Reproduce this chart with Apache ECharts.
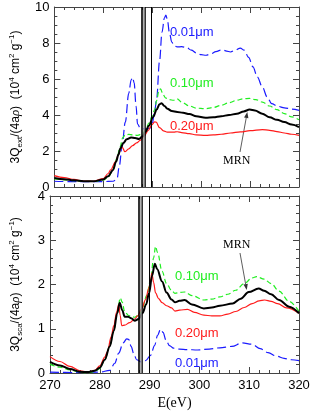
<!DOCTYPE html>
<html><head><meta charset="utf-8">
<script src="https://cdn.jsdelivr.net/npm/echarts/dist/echarts.min.js"></script>
<style>html,body{margin:0;padding:0;background:#fff}#c{width:314px;height:411px}</style>
</head><body><div id="c"></div>
<script>
// ---- Data: [E (eV), value] ----
const extSmall = [[270,0.32],[273,0.3],[276,0.3],[280,0.3],[282,0.32],[282.8,0.45],[283.3,1.2],[283.8,2.2],[284.5,3.6],[285.2,5.2],[285.7,5.95],[286.0,6.08],[286.3,5.8],[286.7,4.5],[287.0,3.5],[287.5,3.3],[288.5,3.22],[289.5,3.25],[290.0,3.5],[290.5,4.2],[290.9,4.9],[291.5,7.0],[292.0,8.6],[292.5,9.4],[292.8,9.55],[293.1,9.3],[293.5,8.6],[294.0,8.05],[294.5,7.85],[295.1,7.78],[296,7.8],[297,7.75],[298,7.6],[299,7.45],[300,7.35],[301,7.32],[302,7.4],[303,7.52],[304.3,7.63],[305.2,7.55],[306,7.5],[307,7.6],[308,7.72],[308.8,7.6],[309.7,7.2],[310.6,6.67],[311.5,6.1],[312.5,5.56],[313.5,5.0],[314.4,4.63],[315.7,4.48],[317,4.4],[318.5,4.33],[320,4.26]];
const extMid = [[270,0.45],[272,0.4],[274,0.35],[276,0.31],[278,0.31],[280,0.38],[281,0.55],[282,0.95],[282.8,1.6],[283.4,2.2],[284.0,2.75],[284.5,2.9],[285.2,2.92],[286,2.9],[287,2.87],[288,2.95],[288.7,3.2],[289.3,3.55],[290,3.95],[290.5,4.3],[290.9,4.8],[291.4,5.4],[291.7,5.45],[292.2,5.15],[292.7,4.95],[293.5,4.85],[294.4,4.82],[295.1,4.9],[296,4.72],[297.6,4.5],[299,4.38],[300.9,4.35],[302.5,4.42],[304.1,4.54],[305.7,4.68],[307.3,4.82],[308.6,4.9],[309.9,4.92],[311.2,4.85],[312.5,4.72],[314,4.5],[315.5,4.3],[317,4.08],[318.5,3.9],[320,3.74]];
const extLarge = [[270,0.63],[272,0.52],[274,0.42],[276,0.33],[278,0.32],[280,0.47],[281,0.75],[281.5,0.95],[282.5,1.4],[283.1,1.8],[283.6,2.15],[283.9,2.2],[284.4,1.96],[285.2,2.12],[286,2.3],[286.8,2.45],[287.6,2.6],[288.4,2.85],[289.2,3.15],[289.9,3.45],[290.5,3.62],[290.8,3.6],[291.5,3.3],[292.3,3.12],[293.1,3.05],[294.4,3.05],[295.1,3.07],[296,3.02],[297.6,2.96],[299,2.9],[300.9,2.87],[302.5,2.9],[304.1,2.93],[306,3.0],[308,3.06],[310,3.13],[312.5,3.19],[314,3.15],[315.5,3.08],[317,3.0],[318.5,2.93],[320,2.87]];
const extMRN = [[270,0.5],[272,0.43],[274,0.37],[276,0.32],[278,0.32],[280,0.42],[281,0.6],[282,0.95],[282.6,1.4],[283.1,1.8],[283.5,2.15],[284.1,2.45],[284.8,2.65],[285.7,2.75],[286.5,2.72],[287.3,2.67],[288,2.8],[288.6,3.05],[289.3,3.4],[290.2,3.89],[290.9,4.3],[291.5,4.6],[291.9,4.65],[292.5,4.5],[293.1,4.35],[294,4.22],[295.1,4.17],[296.3,4.12],[297.6,4.05],[299,3.93],[300.9,3.85],[302.5,3.87],[304.1,3.93],[305.7,4.0],[307.3,4.07],[308.7,4.2],[309.9,4.3],[311,4.25],[312.5,4.07],[314,3.88],[315.5,3.73],[317,3.61],[318.5,3.47],[320,3.33]];

const scaSmall = [[270,0.02],[275,0.01],[280,0.02],[282,0.06],[283,0.22],[283.8,0.45],[284.7,0.68],[285.4,0.77],[285.8,0.76],[286.3,0.6],[286.8,0.44],[287.4,0.3],[288.3,0.25],[289.2,0.28],[290.2,0.4],[291,0.62],[291.6,0.85],[292.2,0.99],[292.7,0.92],[293.3,0.74],[294,0.62],[294.8,0.56],[296,0.54],[297.5,0.53],[299.6,0.52],[302,0.54],[304.1,0.57],[306.5,0.6],[308.6,0.68],[310.6,0.65],[312.2,0.55],[313.8,0.46],[315.5,0.38],[317,0.33],[318.5,0.3],[320,0.28]];
const scaMid = [[270,0.2],[272,0.13],[274,0.07],[276,0.02],[277.5,0.0],[279,0.03],[280,0.1],[281,0.3],[282,0.6],[282.8,0.95],[283.5,1.35],[284.1,1.7],[284.5,1.6],[285,1.38],[285.8,1.3],[287,1.26],[288,1.33],[288.6,1.48],[289.4,1.75],[290.2,2.1],[290.8,2.6],[291.2,2.86],[291.6,2.72],[292.5,2.3],[293.4,2.02],[294.4,1.87],[295.1,1.8],[296,1.82],[297,1.83],[298.5,1.75],[300.9,1.65],[302.5,1.67],[304.1,1.72],[305.7,1.78],[307.3,1.87],[309,2.02],[310.6,2.15],[311.5,2.18],[313,2.12],[314.4,2.02],[316,1.85],[318,1.62],[320,1.39]];
const scaLarge = [[270,0.37],[272,0.26],[274,0.15],[276,0.05],[277.5,0.02],[279,0.06],[280,0.16],[281,0.36],[281.5,0.48],[282.3,0.82],[282.8,1.07],[283.4,1.38],[283.8,1.55],[284.1,1.3],[284.4,1.07],[285,1.08],[286,1.14],[287,1.22],[287.6,1.29],[288.4,1.45],[289.2,1.66],[289.8,1.9],[290.2,2.1],[290.45,2.26],[290.8,2.05],[291.2,1.81],[291.8,1.68],[292.5,1.59],[293.4,1.52],[294.4,1.47],[295.1,1.4],[296,1.42],[297.6,1.44],[299,1.37],[300.9,1.31],[302.5,1.29],[304.1,1.29],[305.7,1.33],[307.3,1.39],[309,1.48],[310.6,1.57],[312,1.63],[313.1,1.65],[314.4,1.62],[315.7,1.57],[317.5,1.47],[320,1.35]];
const scaMRN = [[270,0.25],[272,0.17],[274,0.09],[276,0.03],[277.5,0.02],[279,0.05],[280,0.12],[281,0.3],[282,0.6],[282.8,0.95],[283.5,1.35],[284,1.59],[284.5,1.42],[285,1.27],[285.7,1.27],[286.3,1.24],[287,1.18],[287.8,1.22],[288.6,1.36],[289.3,1.55],[289.9,1.81],[290.5,2.2],[291.05,2.47],[291.5,2.35],[292.5,2.07],[293.4,1.82],[294.4,1.66],[295.1,1.6],[296,1.63],[297,1.65],[298.5,1.55],[300.9,1.46],[302.5,1.48],[304.1,1.52],[306.7,1.57],[308.3,1.68],[309.9,1.83],[311.9,1.91],[313,1.86],[314.4,1.78],[316,1.65],[318,1.5],[320,1.35]];

// vertical reference lines (eV)
const edgeLinesThick = [287.9, 288.5];
const edgeLineGray = [288.2];
const edgeLineThin = [289.9];

const xTicks = {min:270, max:320, interval:10};
const yTopTicks = {min:0, max:10, interval:2};
const yBotTicks = {min:0, max:4, interval:1};

const chart = echarts.init(document.getElementById('c'), null, {renderer:'canvas'});
const AX = '#444';
const tickFont = {fontFamily:'Liberation Sans', fontSize:13, color:'#000'};

function xAxis(gi, pos, labels, name){
  return {type:'value', gridIndex:gi, position:pos, min:xTicks.min, max:xTicks.max, interval:xTicks.interval,
    axisLine:{show:true, onZero:false, lineStyle:{color:AX, width:1}},
    axisTick:{show:true, inside:true, length:6, lineStyle:{color:AX}},
    minorTick:{show:true, splitNumber:5, length:3, lineStyle:{color:AX}},
    axisLabel:Object.assign({show:labels, margin:6}, tickFont),
    splitLine:{show:false},
    name: name || '', nameLocation:'middle', nameGap:23,
    nameTextStyle:{fontFamily:'Liberation Serif', fontSize:14, color:'#000'}};
}
const richName = {fontFamily:'Liberation Sans', fontSize:12, color:'#000', lineHeight:16,
  rich:{sub:{fontFamily:'Liberation Sans', fontSize:8, lineHeight:8, verticalAlign:'bottom', color:'#000'},
        sup:{fontFamily:'Liberation Sans', fontSize:8, lineHeight:8, verticalAlign:'top', color:'#000'},
        it:{fontFamily:'Liberation Serif', fontStyle:'italic', fontSize:13, lineHeight:16, color:'#000'}}};
function yAxis(gi, pos, t, minorSplit, labels, name){
  return {type:'value', gridIndex:gi, position:pos, min:t.min, max:t.max, interval:t.interval,
    axisLine:{show:true, onZero:false, lineStyle:{color:AX, width:1}},
    axisTick:{show:true, inside:true, length:6, lineStyle:{color:AX}},
    minorTick:{show:true, splitNumber:minorSplit, length:3, lineStyle:{color:AX}},
    axisLabel:Object.assign({show:labels, margin:5}, tickFont),
    splitLine:{show:false},
    name: name || '', nameLocation:'middle', nameGap:26, nameRotate:90,
    nameTextStyle: richName};
}
function vlines(){
  const d = [];
  edgeLinesThick.forEach(v=>d.push({xAxis:v, lineStyle:{color:'#000', width:1.6, type:'solid'}}));
  edgeLineGray.forEach(v=>d.push({xAxis:v, lineStyle:{color:'#999', width:1.5, type:'solid'}}));
  edgeLineThin.forEach(v=>d.push({xAxis:v, lineStyle:{color:'#000', width:1, type:'solid'}}));
  return {symbol:['none','none'], silent:true, animation:false, label:{show:false}, data:d};
}
function line(data, xi, yi, color, width, dash, ml){
  const s = {type:'line', data:data, xAxisIndex:xi, yAxisIndex:yi, showSymbol:false, symbol:'none',
    smooth:0.35, smoothMonotone:'x', animation:false, clip:true,
    lineStyle:{color:color, width:width, type:dash||'solid'}};
  if (ml) s.markLine = vlines();
  return s;
}
const BLUE='#1a1aff', GREEN='#22ee22', RED='#ff1a1a', BLACK='#000';
const lblFont = '13px "Liberation Sans"';
function txt(x,y,t,color,font){
  return {type:'text', x:x, y:y, silent:true, style:{text:t, fill:color, font:font||lblFont, textAlign:'left', textVerticalAlign:'middle'}};
}
function arrow(x1,y1,x2,y2){
  const dx=x2-x1, dy=y2-y1, L=Math.hypot(dx,dy), ux=dx/L, uy=dy/L, px=-uy, py=ux;
  const bx=x2-ux*6, by=y2-uy*6;
  return [{type:'line', silent:true, shape:{x1:x1,y1:y1,x2:bx,y2:by}, style:{stroke:'#333', lineWidth:0.8}},
          {type:'polygon', silent:true, shape:{points:[[x2,y2],[bx+px*2.2,by+py*2.2],[bx-px*2.2,by-py*2.2]]}, style:{fill:'#333'}}];
}

chart.setOption({
  backgroundColor:'#fff',
  animation:false,
  grid:[{left:41, right:15, top:7, height:180},{left:41, right:15, top:196, height:181.5}],
  xAxis:[xAxis(0,'bottom',false), xAxis(0,'top',false), xAxis(1,'bottom',true,'E(eV)'), xAxis(1,'top',false)],
  yAxis:[yAxis(0,'left',yTopTicks,4,true,'3Q{sub|ext}/(4a{it|\u03c1})  (10{sup|4} cm{sup|2} g{sup|\u22121})'),
         yAxis(0,'right',yTopTicks,4,false),
         yAxis(1,'left',yBotTicks,5,true,'3Q{sub|sca}/(4a{it|\u03c1})  (10{sup|4} cm{sup|2} g{sup|\u22121})'),
         yAxis(1,'right',yBotTicks,5,false)],
  series:[
    line(extSmall,0,0,BLUE,1.2,[9,4],true),
    line(extMid,0,0,GREEN,1.2,[5,3]),
    line(extLarge,0,0,RED,1.2),
    line(extMRN,0,0,BLACK,2),
    line(scaSmall,2,2,BLUE,1.2,[9,4],true),
    line(scaMid,2,2,GREEN,1.2,[5,3]),
    line(scaLarge,2,2,RED,1.2),
    line(scaMRN,2,2,BLACK,2)
  ],
  graphic:[
    txt(170,32,'0.01\u03bcm',BLUE),
    txt(170,83,'0.10\u03bcm',GREEN),
    txt(170,126,'0.20\u03bcm',RED),
    txt(223,161,'MRN',BLACK,'12px "Liberation Serif"'),
    txt(223,245,'MRN',BLACK,'12px "Liberation Serif"'),
    txt(175,276,'0.10\u03bcm',GREEN),
    txt(175,333,'0.20\u03bcm',RED),
    txt(175,363,'0.01\u03bcm',BLUE)
  ].concat(arrow(240,152,247.3,112)).concat(arrow(240,253,246.7,290))
});
</script></body></html>
